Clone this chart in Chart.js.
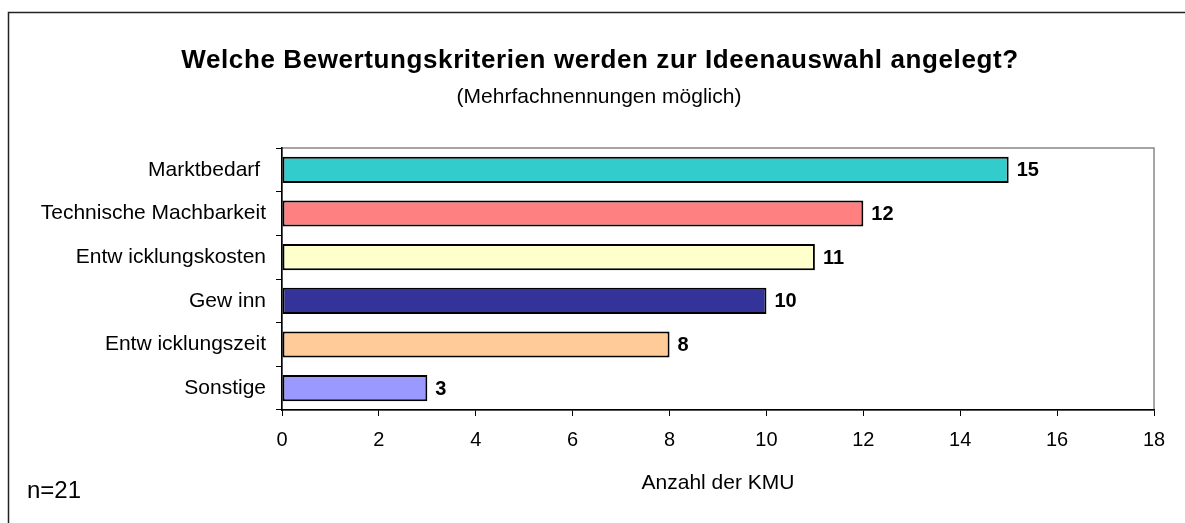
<!DOCTYPE html>
<html>
<head>
<meta charset="utf-8">
<script src="https://cdn.jsdelivr.net/npm/chart.js@4"></script>
<style>
html,body{margin:0;padding:0;background:#fff;}
#wrap{width:1185px;height:523px;}
</style>
</head>
<body>
<div id="wrap"><canvas id="c" width="1185" height="523"></canvas></div>
<script>
const categories = ["Marktbedarf ", "Technische Machbarkeit", "Entw icklungskosten", "Gew inn", "Entw icklungszeit", "Sonstige"];
const values = [15, 12, 11, 10, 8, 3];
const barColors = ["#33CCCC", "#FF8080", "#FFFFCC", "#333399", "#FFCC99", "#9999FF"];
const xTicks = [0, 2, 4, 6, 8, 10, 12, 14, 16, 18];
const titleText = "Welche Bewertungskriterien werden zur Ideenauswahl angelegt?";
const subtitleText = "(Mehrfachnennungen möglich)";
const xTitle = "Anzahl der KMU";
const noteText = "n=21";

const FONT = "'Liberation Sans', Arial, sans-serif";

const decor = {
  id: 'decor',
  beforeDraw(chart) {
    const ctx = chart.ctx, a = chart.chartArea;
    ctx.save();
    ctx.strokeStyle = '#222';
    ctx.lineWidth = 1.5;
    ctx.strokeRect(8.5, 12.5, 3000, 3000);
    ctx.strokeStyle = '#888';
    ctx.lineWidth = 1.5;
    ctx.strokeRect(a.left, a.top, a.right - a.left, a.bottom - a.top);
    ctx.restore();
  },
  afterDraw(chart) {
    const ctx = chart.ctx, a = chart.chartArea;
    ctx.save();
    ctx.fillStyle = '#000';
    ctx.textBaseline = 'middle';
    ctx.textAlign = 'center';
    ctx.font = "bold 26px " + FONT;
    if ('letterSpacing' in ctx) ctx.letterSpacing = '0.6px';
    ctx.fillText(titleText, 600, 61);
    if ('letterSpacing' in ctx) ctx.letterSpacing = '0px';
    ctx.font = "21px " + FONT;
    ctx.fillText(subtitleText, 599, 97);
    ctx.fillText(xTitle, (a.left + a.right) / 2, 483);
    ctx.textAlign = 'left';
    ctx.font = "24px " + FONT;
    ctx.fillText(noteText, 27, 491);
    // data labels
    const meta = chart.getDatasetMeta(0);
    ctx.font = "bold 20px " + FONT;
    meta.data.forEach((bar, i) => {
      ctx.fillText(String(values[i]), bar.x + 8, bar.y + 1);
    });
    ctx.restore();
  }
};

new Chart(document.getElementById('c'), {
  type: 'bar',
  data: {
    labels: categories,
    datasets: [{
      data: values,
      backgroundColor: barColors,
      borderColor: '#000',
      borderWidth: 2,
      borderSkipped: false,
      categoryPercentage: 1.0,
      barPercentage: 0.6
    }]
  },
  options: {
    indexAxis: 'y',
    responsive: false,
    animation: false,
    devicePixelRatio: 1,
    layout: { padding: { top: 148, right: 31, bottom: 0, left: 0 } },
    plugins: { legend: { display: false }, tooltip: { enabled: false }, title: { display: false } },
    scales: {
      y: {
        type: 'category',
        afterFit(scale) { scale.width = 282; },
        grid: { display: true, drawOnChartArea: false, drawTicks: true, tickLength: 6, color: '#000', offset: true },
        border: { display: true, color: '#000', width: 1.5 },
        ticks: { color: '#000', font: { family: FONT, size: 21 }, padding: 10 }
      },
      x: {
        type: 'linear',
        min: 0, max: 18,
        afterFit(scale) { scale.height = 113; },
        afterBuildTicks(scale) { scale.ticks = xTicks.map(v => ({ value: v })); },
        grid: { display: true, drawOnChartArea: false, drawTicks: true, tickLength: 6, color: '#000' },
        border: { display: true, color: '#000', width: 1.5 },
        ticks: { color: '#000', font: { family: FONT, size: 20 }, padding: 12 }
      }
    }
  },
  plugins: [decor]
});
</script>
</body>
</html>
